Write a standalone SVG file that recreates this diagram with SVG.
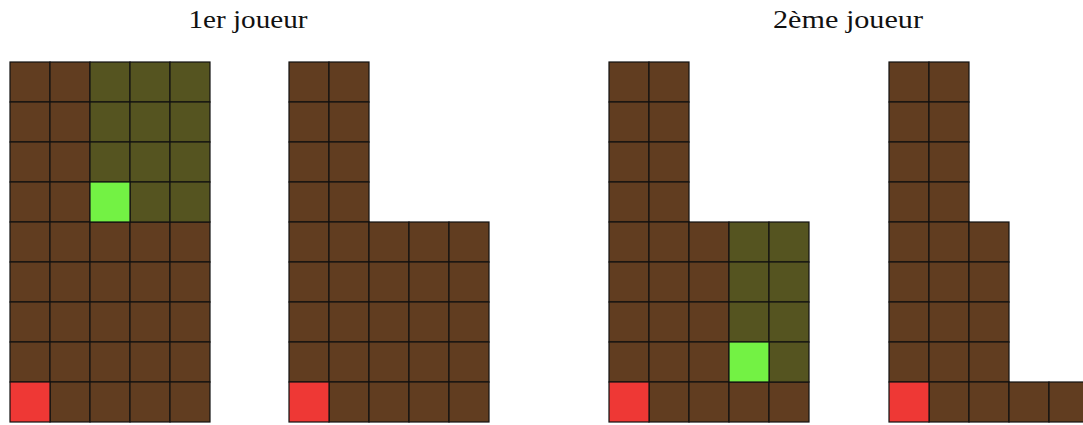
<svg xmlns="http://www.w3.org/2000/svg" width="1083" height="425" viewBox="0 0 1083 425">
<defs>
<style>
.b{fill:#613d20;stroke:#111;stroke-width:1.2}
.o{fill:#555420;stroke:#111;stroke-width:1.2}
.g{fill:#73f244;stroke:#111;stroke-width:1.2}
.r{fill:#ee3835;stroke:#111;stroke-width:1.2}
.t{font-family:"Liberation Serif",serif;font-size:26px;fill:#111}
</style>
<rect id="c" width="40" height="40"/>
</defs>
<rect width="1083" height="425" fill="#fff"/>
<text class="t" x="248" y="28" text-anchor="middle" textLength="119" lengthAdjust="spacingAndGlyphs">1er joueur</text>
<text class="t" x="848" y="28" text-anchor="middle" textLength="150" lengthAdjust="spacingAndGlyphs">2ème joueur</text>

<g id="grid1" transform="translate(10,62)">
<g class="b">
<use href="#c" x="0" y="0"/><use href="#c" x="40" y="0"/>
<use href="#c" x="0" y="40"/><use href="#c" x="40" y="40"/>
<use href="#c" x="0" y="80"/><use href="#c" x="40" y="80"/>
<use href="#c" x="0" y="120"/><use href="#c" x="40" y="120"/>
<use href="#c" x="0" y="160"/><use href="#c" x="40" y="160"/><use href="#c" x="80" y="160"/><use href="#c" x="120" y="160"/><use href="#c" x="160" y="160"/>
<use href="#c" x="0" y="200"/><use href="#c" x="40" y="200"/><use href="#c" x="80" y="200"/><use href="#c" x="120" y="200"/><use href="#c" x="160" y="200"/>
<use href="#c" x="0" y="240"/><use href="#c" x="40" y="240"/><use href="#c" x="80" y="240"/><use href="#c" x="120" y="240"/><use href="#c" x="160" y="240"/>
<use href="#c" x="0" y="280"/><use href="#c" x="40" y="280"/><use href="#c" x="80" y="280"/><use href="#c" x="120" y="280"/><use href="#c" x="160" y="280"/>
<use href="#c" x="40" y="320"/><use href="#c" x="80" y="320"/><use href="#c" x="120" y="320"/><use href="#c" x="160" y="320"/>
</g>
<g class="o">
<use href="#c" x="80" y="0"/><use href="#c" x="120" y="0"/><use href="#c" x="160" y="0"/>
<use href="#c" x="80" y="40"/><use href="#c" x="120" y="40"/><use href="#c" x="160" y="40"/>
<use href="#c" x="80" y="80"/><use href="#c" x="120" y="80"/><use href="#c" x="160" y="80"/>
<use href="#c" x="120" y="120"/><use href="#c" x="160" y="120"/>
</g>
<use class="g" href="#c" x="80" y="120"/>
<use class="r" href="#c" x="0" y="320"/>
</g>

<g id="grid2" transform="translate(289,62)">
<g class="b">
<use href="#c" x="0" y="0"/><use href="#c" x="40" y="0"/>
<use href="#c" x="0" y="40"/><use href="#c" x="40" y="40"/>
<use href="#c" x="0" y="80"/><use href="#c" x="40" y="80"/>
<use href="#c" x="0" y="120"/><use href="#c" x="40" y="120"/>
<use href="#c" x="0" y="160"/><use href="#c" x="40" y="160"/><use href="#c" x="80" y="160"/><use href="#c" x="120" y="160"/><use href="#c" x="160" y="160"/>
<use href="#c" x="0" y="200"/><use href="#c" x="40" y="200"/><use href="#c" x="80" y="200"/><use href="#c" x="120" y="200"/><use href="#c" x="160" y="200"/>
<use href="#c" x="0" y="240"/><use href="#c" x="40" y="240"/><use href="#c" x="80" y="240"/><use href="#c" x="120" y="240"/><use href="#c" x="160" y="240"/>
<use href="#c" x="0" y="280"/><use href="#c" x="40" y="280"/><use href="#c" x="80" y="280"/><use href="#c" x="120" y="280"/><use href="#c" x="160" y="280"/>
<use href="#c" x="40" y="320"/><use href="#c" x="80" y="320"/><use href="#c" x="120" y="320"/><use href="#c" x="160" y="320"/>
</g>
<use class="r" href="#c" x="0" y="320"/>
</g>

<g id="grid3" transform="translate(609,62)">
<g class="b">
<use href="#c" x="0" y="0"/><use href="#c" x="40" y="0"/>
<use href="#c" x="0" y="40"/><use href="#c" x="40" y="40"/>
<use href="#c" x="0" y="80"/><use href="#c" x="40" y="80"/>
<use href="#c" x="0" y="120"/><use href="#c" x="40" y="120"/>
<use href="#c" x="0" y="160"/><use href="#c" x="40" y="160"/><use href="#c" x="80" y="160"/>
<use href="#c" x="0" y="200"/><use href="#c" x="40" y="200"/><use href="#c" x="80" y="200"/>
<use href="#c" x="0" y="240"/><use href="#c" x="40" y="240"/><use href="#c" x="80" y="240"/>
<use href="#c" x="0" y="280"/><use href="#c" x="40" y="280"/><use href="#c" x="80" y="280"/>
<use href="#c" x="40" y="320"/><use href="#c" x="80" y="320"/><use href="#c" x="120" y="320"/><use href="#c" x="160" y="320"/>
</g>
<g class="o">
<use href="#c" x="120" y="160"/><use href="#c" x="160" y="160"/>
<use href="#c" x="120" y="200"/><use href="#c" x="160" y="200"/>
<use href="#c" x="120" y="240"/><use href="#c" x="160" y="240"/>
<use href="#c" x="160" y="280"/>
</g>
<use class="g" href="#c" x="120" y="280"/>
<use class="r" href="#c" x="0" y="320"/>
</g>

<g id="grid4" transform="translate(889,62)">
<g class="b">
<use href="#c" x="0" y="0"/><use href="#c" x="40" y="0"/>
<use href="#c" x="0" y="40"/><use href="#c" x="40" y="40"/>
<use href="#c" x="0" y="80"/><use href="#c" x="40" y="80"/>
<use href="#c" x="0" y="120"/><use href="#c" x="40" y="120"/>
<use href="#c" x="0" y="160"/><use href="#c" x="40" y="160"/><use href="#c" x="80" y="160"/>
<use href="#c" x="0" y="200"/><use href="#c" x="40" y="200"/><use href="#c" x="80" y="200"/>
<use href="#c" x="0" y="240"/><use href="#c" x="40" y="240"/><use href="#c" x="80" y="240"/>
<use href="#c" x="0" y="280"/><use href="#c" x="40" y="280"/><use href="#c" x="80" y="280"/>
<use href="#c" x="40" y="320"/><use href="#c" x="80" y="320"/><use href="#c" x="120" y="320"/><use href="#c" x="160" y="320"/>
</g>
<use class="r" href="#c" x="0" y="320"/>
</g>
</svg>
